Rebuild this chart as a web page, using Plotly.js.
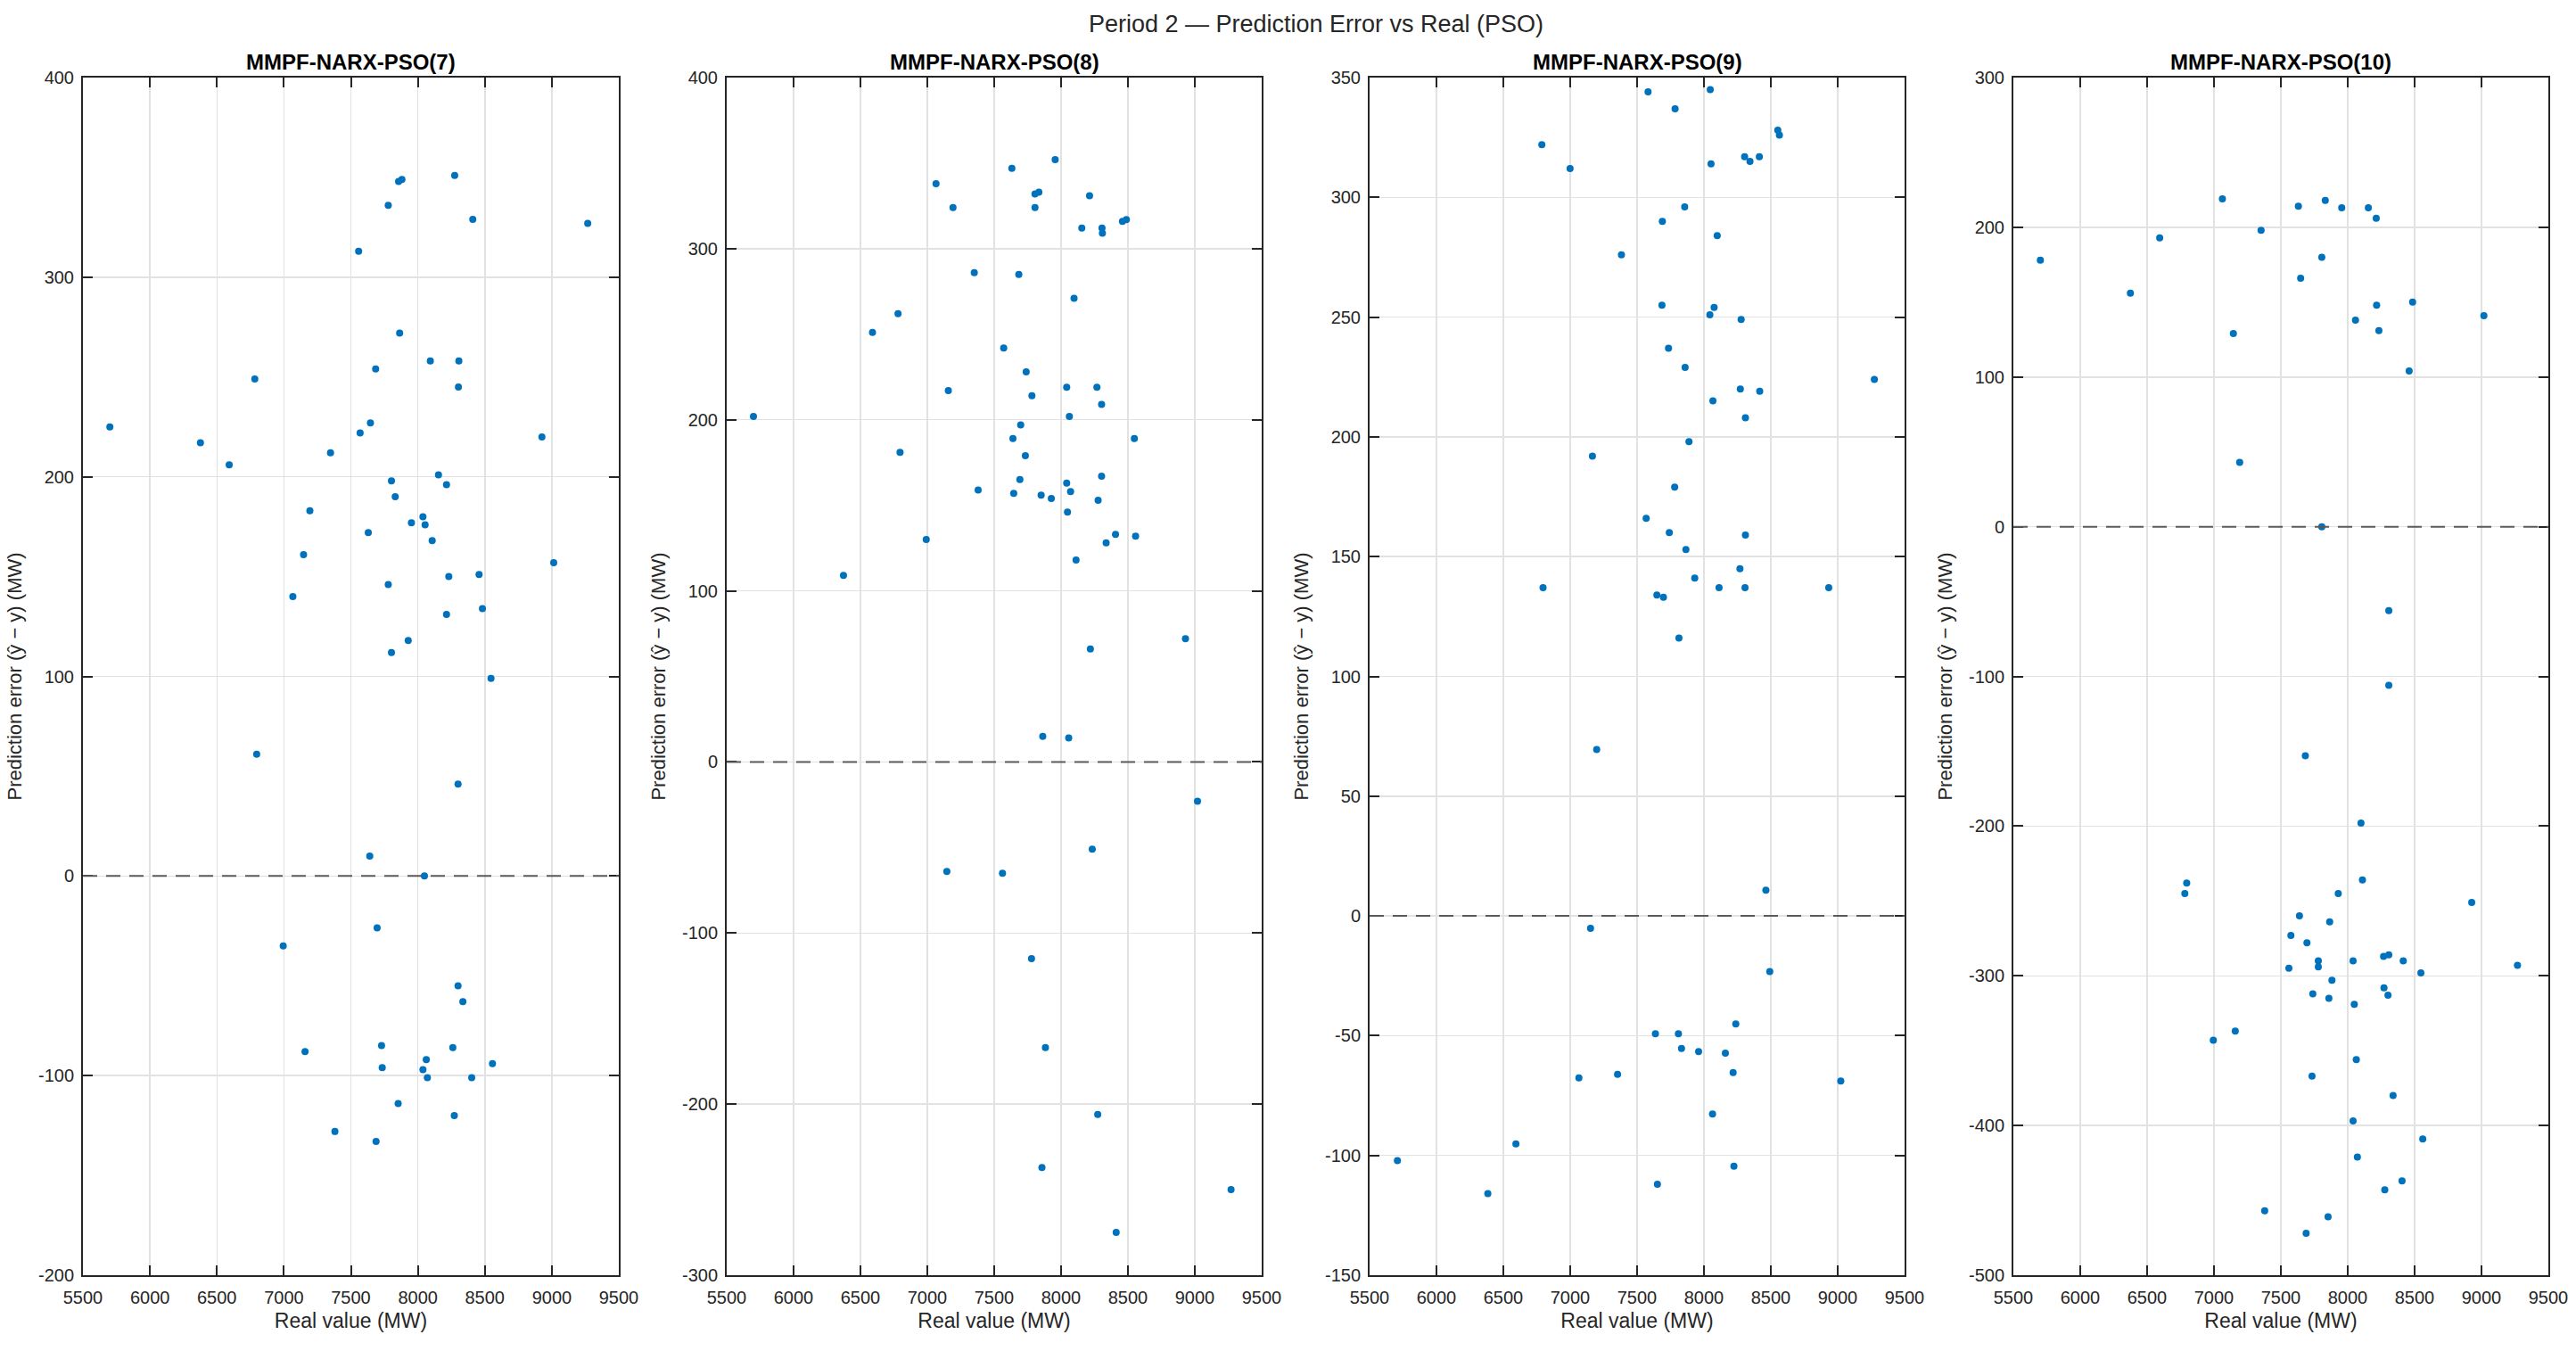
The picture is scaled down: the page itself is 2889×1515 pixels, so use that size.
<!DOCTYPE html>
<html>
<head>
<meta charset="utf-8">
<title>Period 2 — Prediction Error vs Real (PSO)</title>
<script src="https://cdn.plot.ly/plotly-3.0.1.min.js"></script>
<style>
  html, body { margin: 0; padding: 0; background: #ffffff; }
  #chart { width: 2889px; height: 1515px; }
</style>
</head>
<body>
<div id="chart"></div>
<script>
// ---- Data: real load (MW) and prediction error (MW) for each model order ----
const modelTitles = ['MMPF-NARX-PSO(7)', 'MMPF-NARX-PSO(8)', 'MMPF-NARX-PSO(9)', 'MMPF-NARX-PSO(10)'];

const real7 = [5701, 6377, 6592, 6783, 7348, 7558, 7569, 7646, 7685, 7779, 7803, 7831, 7856, 7881, 7864,
  8275, 8410, 9268, 8093, 8306, 8303, 8926, 8154, 8214, 7194, 8038, 8054, 7952, 7630, 8107, 7147, 9014,
  7779, 8231, 8457, 7067, 8482, 8214, 7928, 7803,
  8546, 6797, 8300, 7641, 8049, 7696, 6995, 8300, 8336, 7158, 7729, 8261, 7734, 8063, 8038, 8071, 8402,
  8557, 7853, 8272, 7381, 7688];
const err7 = [225, 217, 206, 249, 212, 313, 222, 227, 254, 336, 198, 190, 348, 349, 272,
  351, 329, 327, 258, 258, 245, 220, 201, 196, 183, 180, 176, 177, 172, 168, 161, 157,
  146, 150, 151, 140, 134, 131, 118, 112,
  99, 61, 46, 10, 0, -26, -35, -55, -63, -88, -85, -86, -96, -92, -97, -101, -101,
  -94, -114, -120, -128, -133];

const real8 = [5700, 6373, 6590, 6781, 6796, 6992, 7065, 7157, 7192, 7351, 7380, 7571, 7632, 7640, 7646,
  7684, 7692, 7698, 7733, 7739, 7782, 7805, 7834, 7805, 7851, 7927, 7956, 8042, 8042, 8048, 8062, 8071,
  8097, 8112, 8155, 8213, 8268, 8277, 8303, 8303, 8306, 8309, 8337, 8407, 8459, 8488, 8548, 8557, 8930,
  8219, 7863, 8057, 9020, 8233, 7146, 7562, 7779, 7883, 8274, 7857, 9271, 8412];
const err8 = [202, 109, 251, 262, 181, 130, 338, 217, 324, 286, 159, 242, 347, 189, 157,
  285, 165, 197, 179, 228, 214, 332, 333, 324, 156, 154, 352, 219, 163, 146, 202, 158,
  271, 118, 312, 331, 219, 153, 209, 167, 312, 309, 128, 133, 316, 317, 189, 132, 72,
  66, 15, 14, -23, -51, -64, -65, -115, -167, -206, -237, -250, -275];

const real9 = [7582, 8047, 7784, 6788, 6999, 8552, 8564, 8304, 8344, 8414, 8053, 7856, 7689, 8099, 7383,
  7686, 8076, 8044, 8278, 7735, 7859, 9274, 8272, 8417, 8067, 8310, 7888, 7166, 7781, 7568, 7741, 8310,
  7865, 8269, 7931, 6797, 8933, 8113, 8307, 7648, 7697, 7813,
  7198, 8463, 7152, 8492, 8238, 7637, 7809, 7832, 7960, 8160, 8218, 7065, 7354, 9023, 8064, 6594, 5708,
  8224, 7652, 6384];
const err9 = [344, 345, 337, 322, 312, 328, 326, 317, 315, 317, 314, 296, 290, 284, 276,
  255, 254, 251, 249, 237, 229, 224, 220, 219, 215, 208, 198, 192, 179, 166, 160, 159,
  153, 145, 141, 137, 137, 137, 137, 134, 133, 116,
  69.5, 10.7, -5.2, -23.2, -45.1, -49.2, -49.2, -55.3, -56.6, -57.3, -65.4, -67.6, -66.1, -68.9, -82.7, -95.2, -102.2,
  -104.5, -112, -115.9];

const real10 = [5702, 6375, 6594, 7063, 7145, 7192, 7352, 7631, 7648, 7832, 7806, 7806, 7955, 8058, 8154,
  8213, 8216, 8233, 8485, 8459, 9018, 8307,
  8307, 7683, 8099, 6796, 8110, 6782, 7929, 8927, 7639, 7865, 7575, 7695, 7780, 7780, 8040, 8268, 8307,
  8415, 7560, 9269, 8547, 7882, 8271, 7739, 8301, 7859, 8049, 7159, 6995, 8064, 7733, 8339, 8040, 8561,
  8072, 8406, 8277, 7379, 7853, 7689];
const err10 = [178, 156, 193, 219, 129, 43, 198, 214, 166, 218, 180, 0, 213, 138, 213,
  206, 148, 131, 150, 104, 141, -56,
  -106, -153, -198, -238, -236, -245, -245, -251, -260, -264, -273, -278, -290, -294, -290, -287, -286,
  -290, -295, -293, -298, -303, -308, -312, -313, -315, -319, -337, -343, -356, -367, -380, -397, -409,
  -421, -437, -443, -457, -461, -472];

// Axis ticks
const xTicks = [5500, 6000, 6500, 7000, 7500, 8000, 8500, 9000, 9500];
const yTicks7 = [-200, -100, 0, 100, 200, 300, 400];
const yTicks8 = [-300, -200, -100, 0, 100, 200, 300, 400];
const yTicks9 = [-150, -100, -50, 0, 50, 100, 150, 200, 250, 300, 350];
const yTicks10 = [-500, -400, -300, -200, -100, 0, 100, 200, 300];

// ---- Styling ----
const FONT = 'Liberation Sans, Arial, Helvetica, sans-serif';
const INK = '#262626';
const DOT = '#0072BD';
const W = 2889, H = 1515;
const M = { l: 93, r: 31, t: 87, b: 85 };
const plotW = W - M.l - M.r;
// left/right pixel edges of each panel
const panelPx = [[93, 694], [815, 1415], [1536, 2136], [2258, 2858]];
const domains = panelPx.map(([a, b]) => [(a - M.l) / plotW, (b - M.l) / plotW]);

const panels = [
  { x: real7, y: err7, yTicks: yTicks7 },
  { x: real8, y: err8, yTicks: yTicks8 },
  { x: real9, y: err9, yTicks: yTicks9 },
  { x: real10, y: err10, yTicks: yTicks10 }
];

function baseAxis() {
  return {
    showgrid: true, gridcolor: '#e2e2e2', gridwidth: 1.5,
    zeroline: false,
    showline: true, linecolor: INK, linewidth: 2, mirror: 'ticks',
    ticks: 'inside', ticklen: 11, tickwidth: 2, tickcolor: INK,
    tickfont: { family: FONT, size: 20, color: INK },
    automargin: false, fixedrange: true
  };
}

const traces = [];
const layout = {
  width: W, height: H,
  margin: { l: M.l, r: M.r, t: M.t, b: M.b, pad: 0 },
  paper_bgcolor: '#ffffff', plot_bgcolor: '#ffffff',
  showlegend: false,
  font: { family: FONT, color: INK },
  title: {
    text: 'Period 2 — Prediction Error vs Real (PSO)',
    font: { family: FONT, size: 27, color: INK },
    x: 1476 / W, xanchor: 'center', xref: 'container',
    y: 1 - 27 / H, yanchor: 'middle', yref: 'container'
  },
  annotations: [],
  shapes: []
};

panels.forEach((p, i) => {
  const n = i === 0 ? '' : String(i + 1);
  traces.push({
    type: 'scatter', mode: 'markers',
    x: p.x, y: p.y,
    xaxis: 'x' + n, yaxis: 'y' + n,
    marker: { color: DOT, size: 8 },
    hoverinfo: 'skip'
  });

  const xa = Object.assign(baseAxis(), {
    domain: domains[i], anchor: 'y' + n,
    range: [xTicks[0], xTicks[xTicks.length - 1]],
    tickmode: 'array', tickvals: xTicks, ticktext: xTicks.map(String),
    ticklabelstandoff: 6,
    title: { text: 'Real value (MW)', font: { family: FONT, size: 23, color: INK }, standoff: 8 }
  });
  const ya = Object.assign(baseAxis(), {
    domain: [0, 1], anchor: 'x' + n,
    range: [p.yTicks[0], p.yTicks[p.yTicks.length - 1]],
    tickmode: 'array', tickvals: p.yTicks, ticktext: p.yTicks.map(String),
    ticklabelstandoff: 4,
    title: { text: 'Prediction error (ŷ − y) (MW)', font: { family: FONT, size: 22, color: INK }, standoff: 12 }
  });
  layout['xaxis' + n] = xa;
  layout['yaxis' + n] = ya;

  // panel title
  layout.annotations.push({
    text: '<b>' + modelTitles[i] + '</b>',
    xref: 'x' + n + ' domain', yref: 'paper',
    x: 0.5, y: 1, xanchor: 'center', yanchor: 'middle', yshift: 18,
    showarrow: false,
    font: { family: FONT, size: 24, color: '#000000' }
  });

  // dashed zero-error reference line
  layout.shapes.push({
    type: 'line', layer: 'above',
    xref: 'x' + n + ' domain', x0: 0, x1: 1,
    yref: 'y' + n, y0: 0, y1: 0,
    line: { color: '#5a5a5a', width: 2, dash: '16px,10px' }
  });
});

Plotly.newPlot('chart', traces, layout, { staticPlot: true, displayModeBar: false });
</script>
</body>
</html>
